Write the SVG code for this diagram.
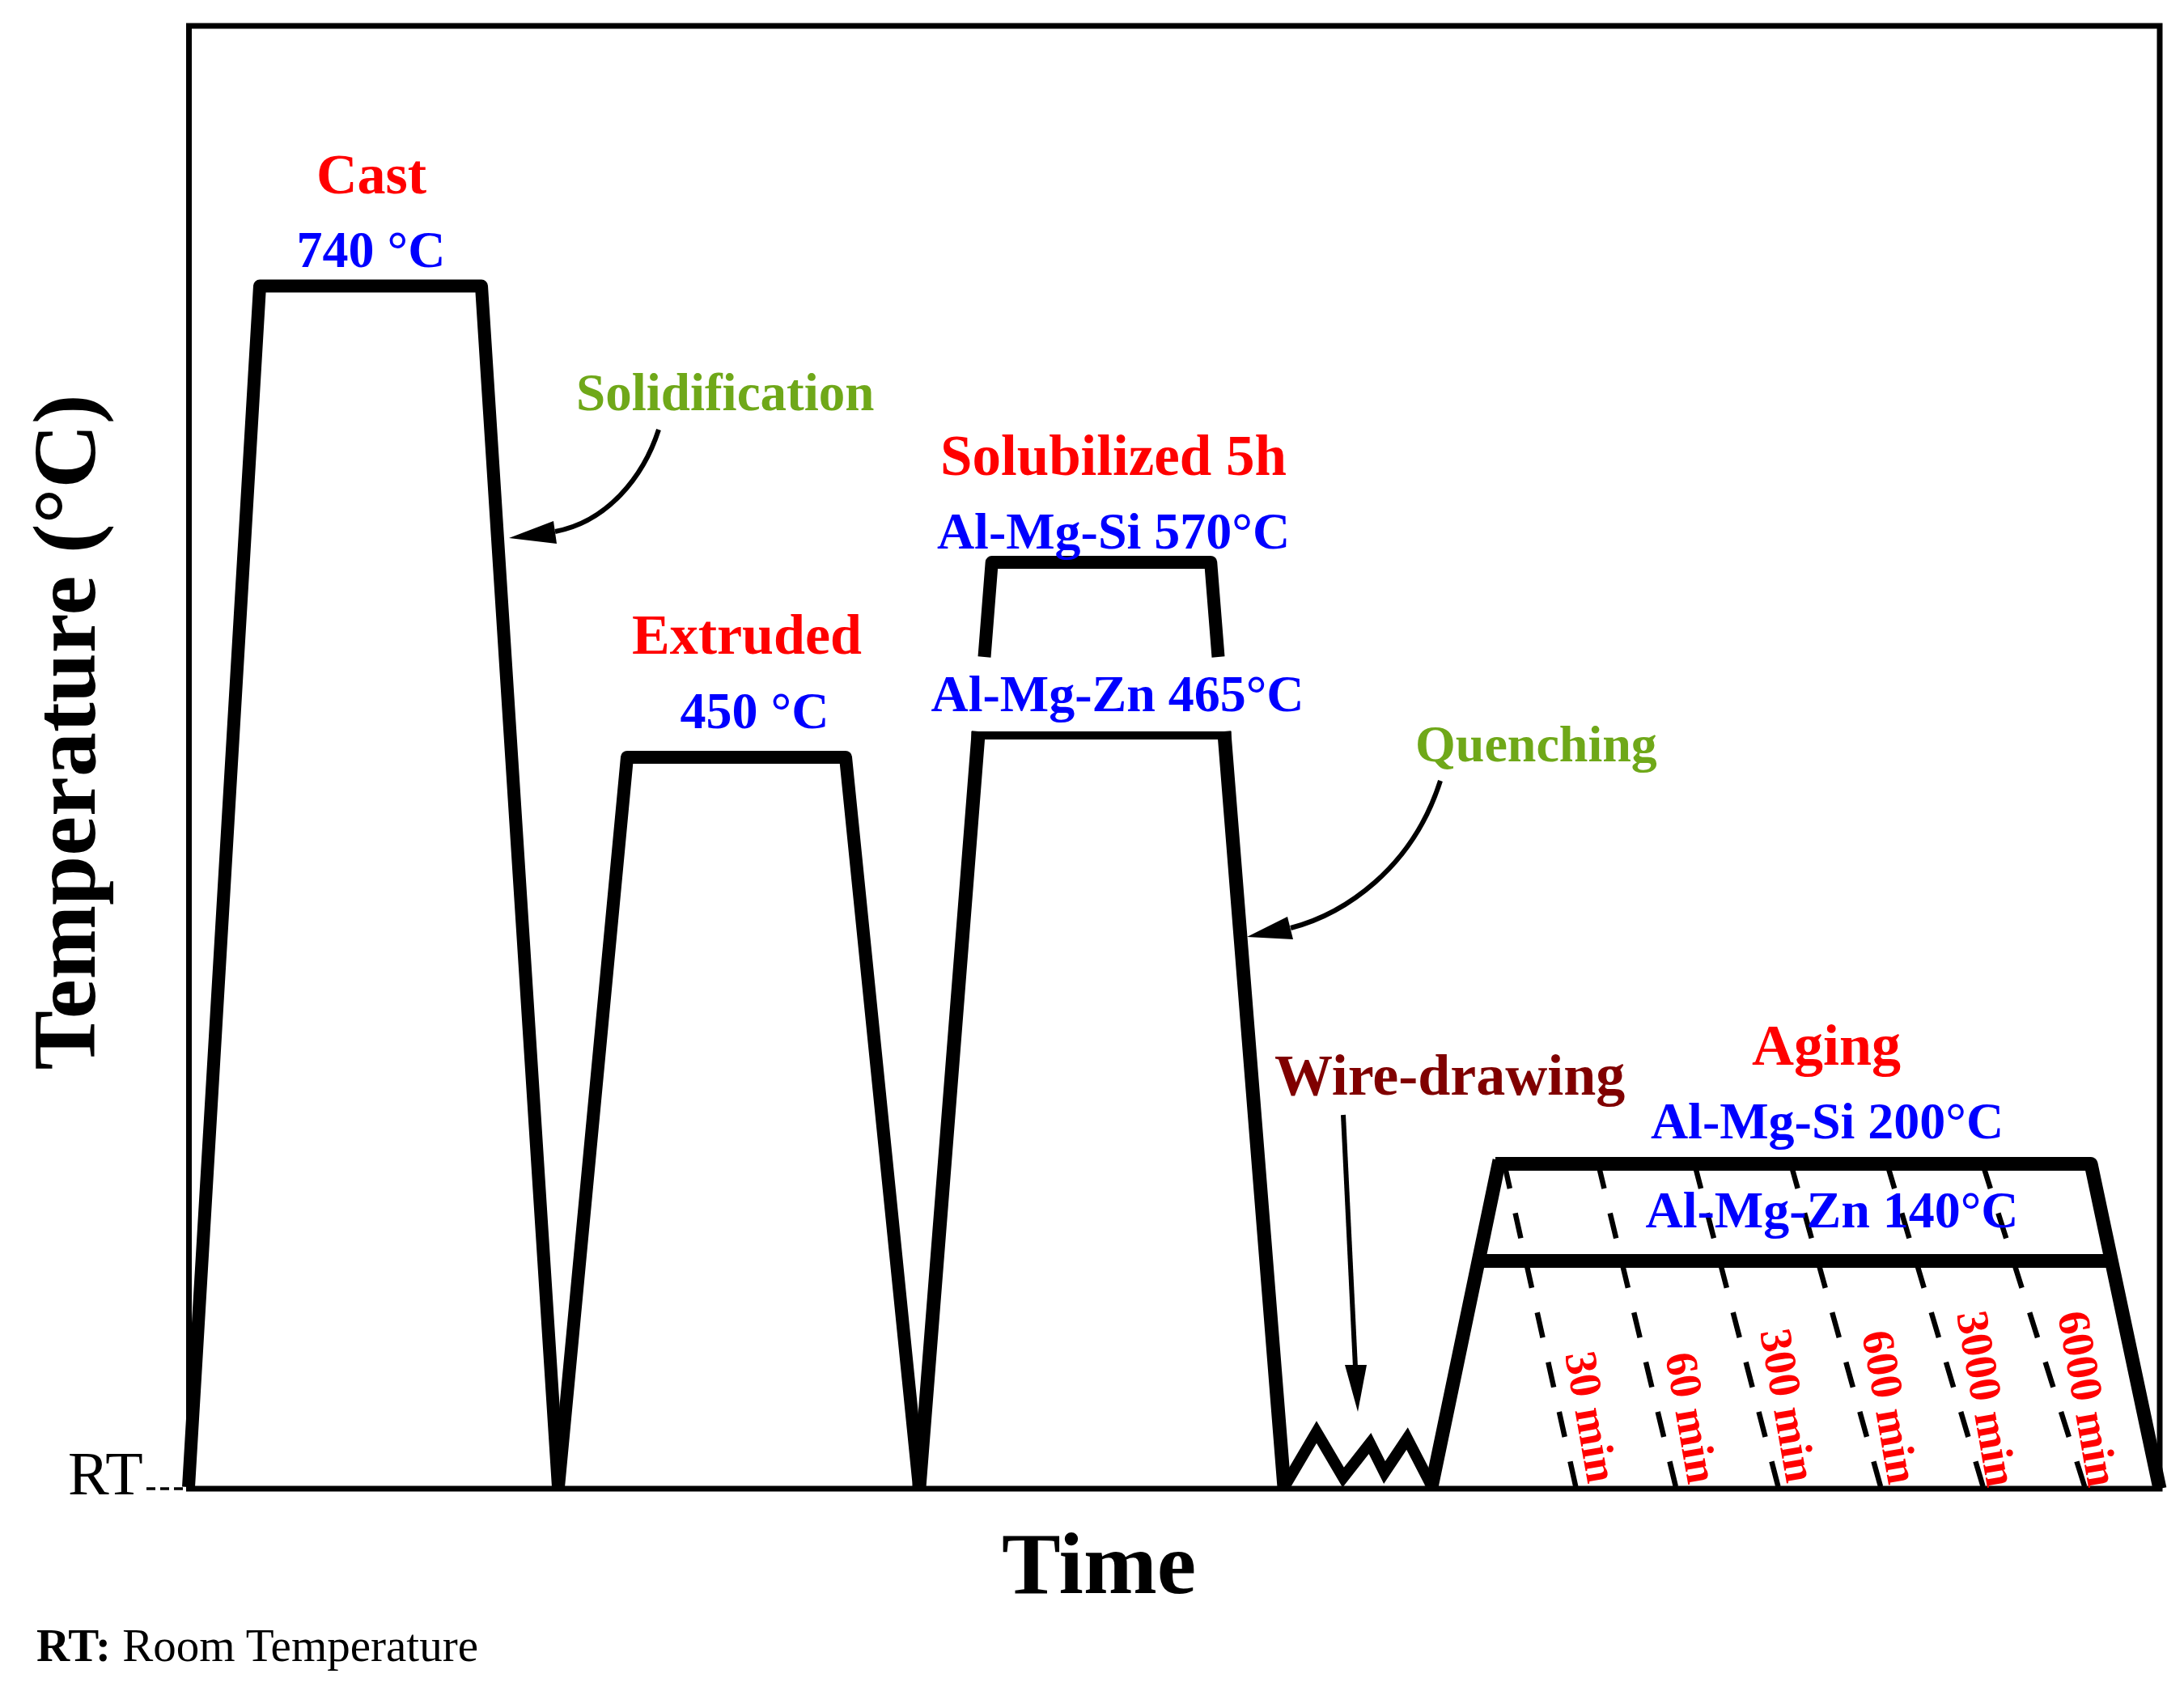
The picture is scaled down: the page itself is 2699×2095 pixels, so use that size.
<svg xmlns="http://www.w3.org/2000/svg" width="2699" height="2095" viewBox="0 0 2699 2095">
<style>
text{font-family:"Liberation Serif","Times New Roman",serif;font-weight:bold}
.red{fill:#ff0000}
.blue{fill:#0000ff}
.green{fill:#6fa819}
.maroon{fill:#800000}
.blk{fill:#000}
.thick{fill:none;stroke:#000;stroke-width:16;stroke-linejoin:round}
.dash{fill:none;stroke:#000;stroke-width:6.5}
.arrow{fill:none;stroke:#000;stroke-width:6}
.mid{text-anchor:middle}
.min{fill:#ff0000;font-size:56px}
.t64{font-size:64px}
.t70{font-size:70px}
</style>
<rect width="2699" height="2095" fill="#fff"/>
<g id="frame">
<rect x="233.5" y="32" width="2435.5" height="1808" fill="none" stroke="#000" stroke-width="7"/>
</g>
<g id="axis-labels">
<text x="117" y="905" transform="rotate(-90 117 905)" class="mid" font-size="110">Temperature (°C)</text>
<text x="1358" y="1969" class="mid" font-size="109">Time</text>
<text x="84" y="1847" font-size="76" style="font-weight:normal">RT</text>
<line x1="181" y1="1840" x2="228" y2="1840" stroke="#000" stroke-width="3.5" stroke-dasharray="11 6"/>
<text x="45" y="2053" font-size="57"><tspan>RT:</tspan><tspan style="font-weight:normal"> Room Temperature</tspan></text>
</g>
<g id="cast">
<path class="thick" d="M233,1838 L321,353.5 L595,353.5 L690,1838"/>
<text x="459" y="239" class="red mid t70">Cast</text>
<text x="458.5" y="330" class="blue mid t64">740 °C</text>
</g>
<g id="extruded">
<path class="thick" d="M690,1838 L775,936 L1045,936 L1136,1838"/>
<text x="923" y="808" class="red mid t70">Extruded</text>
<text x="932.5" y="900" class="blue mid t64">450 °C</text>
</g>
<g id="solubilized">
<path class="thick" d="M1216.5,812 L1225.7,695 L1496.2,695 L1505.5,812" stroke-linecap="butt"/>
<path d="M1136,1838 L1209.3,904 M1512.8,904 L1587,1838" fill="none" stroke="#000" stroke-width="17"/>
<line x1="1200.5" y1="909" x2="1521.5" y2="909" stroke="#000" stroke-width="10"/>
<text x="1376" y="587" class="red mid" font-size="71">Solubilized 5h</text>
<text x="1376" y="678" class="blue mid t64">Al-Mg-Si 570°C</text>
<text x="1381" y="879" class="blue mid t64">Al-Mg-Zn 465°C</text>
</g>
<g id="wire-drawing">
<path d="M1587,1838 L1627,1770 L1660,1826 L1693,1784 L1711,1820 L1739,1778 L1770,1838" fill="none" stroke="#000" stroke-width="14" stroke-linejoin="miter"/>
<text x="1575" y="1353" class="maroon" font-size="72">Wire-drawing</text>
</g>
<g id="aging">
<path d="M1769,1838 L1853,1434 M1848,1438.5 L2584,1438.5 L2669,1840" fill="none" stroke="#000" stroke-width="17" stroke-linejoin="round"/>
<line x1="1828" y1="1558.5" x2="2609" y2="1558.5" stroke="#000" stroke-width="17"/>
<line class="dash" x1="1859" y1="1438" x2="1947.4" y2="1838" stroke-dasharray="31.75 31.13"/>
<line class="dash" x1="1975" y1="1438" x2="2071" y2="1838" stroke-dasharray="31.88 31.26"/>
<line class="dash" x1="2094" y1="1438" x2="2197.6" y2="1838" stroke-dasharray="32.02 31.40"/>
<line class="dash" x1="2213" y1="1438" x2="2324.2" y2="1838" stroke-dasharray="32.17 31.55"/>
<line class="dash" x1="2332" y1="1438" x2="2450.8" y2="1838" stroke-dasharray="32.34 31.71"/>
<line class="dash" x1="2450" y1="1438" x2="2576.4" y2="1838" stroke-dasharray="32.51 31.88"/>
<text x="2257" y="1316" class="red mid" font-size="72">Aging</text>
<text x="2258" y="1407" class="blue mid t64">Al-Mg-Si 200°C</text>
<text x="2264" y="1517" class="blue mid t64">Al-Mg-Zn 140°C</text>
<text class="min" transform="translate(1934,1674) rotate(80)">30 min</text>
<text class="min" transform="translate(2058,1675) rotate(80)">60 min</text>
<text class="min" transform="translate(2175,1646) rotate(80)">300 min</text>
<text class="min" transform="translate(2301,1648) rotate(80)">600 min</text>
<text class="min" transform="translate(2418,1624) rotate(80)">3000 min</text>
<text class="min" transform="translate(2543,1624) rotate(80)">6000 min</text>
</g>
<g id="annotations">
<text x="712" y="507" class="green" font-size="65">Solidification</text>
<text x="1749" y="941" class="green t64">Quenching</text>
</g>
<g id="connectors">
<path class="arrow" d="M814,531 C795,590 750,645 686,657"/>
<polygon class="blk" points="629,665 684,644 688,672"/>
<path class="arrow" d="M1780,965 C1745,1075 1660,1130 1595,1147"/>
<polygon class="blk" points="1541,1158 1591,1133 1598,1161"/>
<path class="arrow" d="M1660,1378 L1675,1690"/>
<polygon class="blk" points="1678,1745 1662,1687 1689,1687"/>
</g>
</svg>
